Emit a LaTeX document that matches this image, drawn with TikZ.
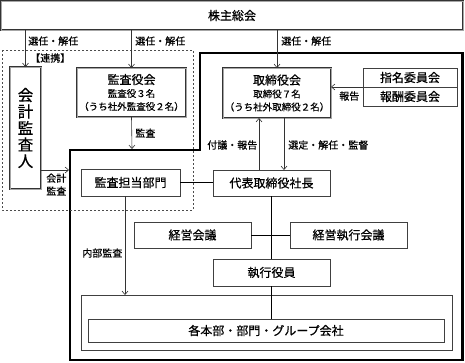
\documentclass[tikz,border=0pt]{standalone}
\usepackage{fontspec}
\setmainfont{Noto Sans CJK JP}[FakeBold=0.5]
\usetikzlibrary{arrows.meta}
\newcommand\orgsub{\fontsize{9.5}{11.5}\selectfont}
\tikzset{
  org chart/.style={
    x=1pt,
    y=-1pt,
    line width=0.6pt,
    >={Straight Barb[length=3.5pt,width=6pt]}
  },
  org box/.style={
    draw=black!75,
    fill=white,
    inner sep=0pt,
    outer sep=0pt,
    align=center,
    font=\fontsize{12}{13}\selectfont
  },
  org double/.style={
    org box,
    draw=black!80,
    double=black!35,
    double distance=0.9pt
  },
  org label/.style={
    font=\fontsize{10}{13}\selectfont,
    inner sep=1pt,
    align=left
  },
  org frame/.style={
    line width=2.4pt,
    line join=miter
  },
  org link/.style={
    draw=black!70,
    dash pattern=on 2pt off 2pt
  },
  org arrow/.style={
    ->,
    draw=black!80
  }
}

\begin{document}
\begin{tikzpicture}[org chart]
  \useasboundingbox (0,0) rectangle (465,362);
  % outlines
  \draw[org frame] (70,360) -- (70,150) -- (200,150) -- (200,53) -- (462.5,53) -- (462.5,360) -- cycle;
  \draw[org link] (2,50) rectangle (193,210);
  \coordinate (frametop) at (132,149);
  \coordinate (frameleft) at (69,170);

  % boxes
  \node[org double, minimum width=462, minimum height=29] (meeting) at (232,15.5) {株主総会};
  \node[org double, minimum width=31, minimum height=122, font=\fontsize{15.5}{16.5}\selectfont]
    (auditor) at (25.5,128) {会\\計\\監\\査\\人};
  \node[org double, minimum width=109, minimum height=49] (auditboard) at (131.5,92.5)
    {監査役会\\\orgsub 監査役３名\\\orgsub（うち社外監査役２名）};
  \node[org double, minimum width=108, minimum height=50] (board) at (277,93)
    {取締役会\\\orgsub 取締役７名\\\orgsub（うち社外取締役２名）};
  \node[org box, minimum width=94, minimum height=19] (nomination) at (410,77.5) {指名委員会};
  \node[org box, minimum width=94, minimum height=19] (remuneration) at (410,96.5) {報酬委員会};
  \node[org box, minimum width=99, minimum height=27] (auditdept) at (130.5,182.5) {監査担当部門};
  \node[org box, minimum width=117, minimum height=26] (president) at (271.5,183) {代表取締役社長};
  \node[org box, minimum width=117, minimum height=26] (mgmt) at (192.5,235) {経営会議};
  \node[org box, minimum width=117, minimum height=26] (execmeeting) at (348.5,235) {経営執行会議};
  \node[org box, minimum width=117, minimum height=27] (officers) at (271.5,272.5) {執行役員};
  \node[org box, minimum width=371, minimum height=55] (groups) at (266.5,322.5) {};
  \node[org box, minimum width=356, minimum height=23] (units) at (266,330.5) {各本部・部門・グループ会社};

  % connectors
  \draw[org arrow] (meeting.south -| auditor.north) -- (auditor.north);
  \draw[org arrow] (meeting.south -| auditboard.north) -- (auditboard.north);
  \draw[org arrow] (meeting.south -| board.north) -- (board.north);
  \draw[org arrow] (auditboard.south) -- (frametop);
  \draw[org arrow] (frameleft -| auditor.east) -- (frameleft);
  \draw[org arrow] (nomination.south west) -- (nomination.south west -| board.east);
  \draw[org arrow] ([xshift=-18]board.south |- president.north) -- ([xshift=-18]board.south);
  \draw[org arrow] ([xshift=7]board.south) -- ([xshift=7]board.south |- president.north);
  \draw (auditdept.east) -- (auditdept.east -| president.west);
  \draw (mgmt.east) -- (execmeeting.west);
  \draw (president.south) -- (officers.north);
  \draw (officers.south) -- (officers.south |- units.north);
  \draw[org arrow] ([xshift=-5.5]auditdept.south) -- ([xshift=-5.5]auditdept.south |- groups.north);

  % labels
  \node[org label, anchor=west] (elect1) at (27,41) {選任・解任};
  \node[org label, anchor=west] (elect2) at (134,41) {選任・解任};
  \node[org label, anchor=west] (elect3) at (280,41) {選任・解任};
  \node[org label, anchor=west] (linkage) at (29,58) {【連携】};
  \node[org label, anchor=west] (audit1) at (134,133) {監査};
  \node[org label, anchor=west] (audit2) at (45,184.5) {会計\\監査};
  \node[org label, anchor=west] (report1) at (338,96) {報告};
  \node[org label, anchor=west] (submit) at (206,145) {付議・報告};
  \node[org label, anchor=west] (appoint) at (287,145) {選定・解任・監督};
  \node[org label, anchor=west] (internal) at (81,253) {内部監査};
\end{tikzpicture}
\end{document}
